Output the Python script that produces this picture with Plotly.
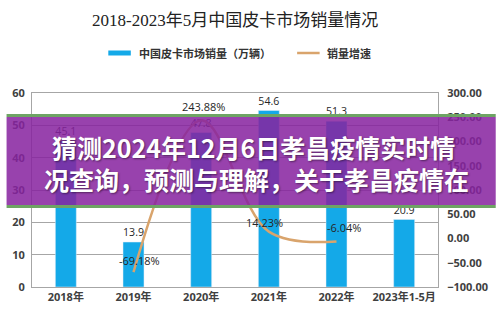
import plotly.graph_objects as go

# ---- data ----
categories = ["2018年", "2019年", "2020年", "2021年", "2022年", "2023年1-5月"]
sales = [45.1, 13.9, 47.8, 54.6, 51.3, 20.9]
growth_cats = ["2019年", "2020年", "2021年", "2022年"]
growth = [-69.18, 243.88, 14.23, -6.04]
left_ticks = [0, 10, 20, 30, 40, 50, 60]
right_ticks = [-100, -50, 0, 50, 100, 150, 200, 250, 300]
title_text = "2018-2023年5月中国皮卡市场销量情况"
legend_bar = "中国皮卡市场销量（万辆）"
legend_line = "销量增速"
banner_lines = ["猜测2024年12月6日孝昌疫情实时情", "况查询，预测与理解，关于孝昌疫情在"]

# ---- layout geometry (pixels) ----
W, H = 500, 325
L, R, T, B = 26, 441, 93, 287


def px(x):
    return (x - L) / (R - L)


def py(y):
    return (B - y) / (B - T)


BAR_COLOR = "#14A9E8"
LINE_COLOR = "#D9A46C"
TXT = "#404040"
FONT = "Open Sans, Noto Sans CJK SC, sans-serif"

fig = go.Figure()
fig.add_trace(go.Bar(
    x=categories, y=sales, width=0.31, marker_color=BAR_COLOR,
    text=[f"{v:.1f}" for v in sales], textposition="outside",
    textfont=dict(size=11, color="#262626", family=FONT), cliponaxis=False,
    name=legend_bar, showlegend=False,
))
fig.add_trace(go.Scatter(
    x=growth_cats, y=growth, yaxis="y2", mode="lines",
    line=dict(color=LINE_COLOR, width=2.5, shape="spline", smoothing=1.0),
    name=legend_line, showlegend=False, cliponaxis=False,
))

# growth labels
shifts = [(6, 12), (2, 14), (-4, 9), (7, 14)]
annotations = []
for c, g, (dx, dy) in zip(growth_cats, growth, shifts):
    annotations.append(dict(x=c, y=g, yref="y2", xref="x", text=f"{g:.2f}%",
                            showarrow=False, xshift=dx, yshift=dy,
                            font=dict(size=11, color="#262626", family=FONT)))

# title
annotations.append(dict(x=0.5, y=py(20), xref="paper", yref="paper", text=title_text,
                        showarrow=False, xanchor="center", yanchor="middle",
                        font=dict(size=17, color="#222222",
                                  family="Liberation Serif, Noto Sans CJK SC, serif")))
# legend texts
annotations.append(dict(x=px(133), y=py(53), xref="paper", yref="paper", text=legend_bar,
                        showarrow=False, xanchor="left", yanchor="middle",
                        font=dict(size=11, color="#333333", family=FONT, weight="bold")))
annotations.append(dict(x=px(325), y=py(53), xref="paper", yref="paper", text=legend_line,
                        showarrow=False, xanchor="left", yanchor="middle",
                        font=dict(size=11, color="#333333", family=FONT, weight="bold")))
# banner text
annotations.append(dict(x=px(44), y=py(147), xref="paper", yref="paper", text=banner_lines[0],
                        showarrow=False, xanchor="left", yanchor="middle",
                        font=dict(size=25, color="white", family="Noto Sans CJK SC", weight="bold",
                                  shadow="1px 1px 2px rgba(0,0,0,0.45)")))
annotations.append(dict(x=px(36), y=py(179), xref="paper", yref="paper", text=banner_lines[1],
                        showarrow=False, xanchor="left", yanchor="middle",
                        font=dict(size=25, color="white", family="Noto Sans CJK SC", weight="bold",
                                  shadow="1px 1px 2px rgba(0,0,0,0.45)")))

shapes = [
    # legend symbols
    dict(type="rect", xref="paper", yref="paper", x0=px(104), x1=px(127), y0=py(55.5), y1=py(50.5),
         fillcolor=BAR_COLOR, line=dict(width=0)),
    dict(type="line", xref="paper", yref="paper", x0=px(297), x1=px(320), y0=py(53), y1=py(53),
         line=dict(color=LINE_COLOR, width=2.5)),
    # banner
    dict(type="rect", xref="paper", yref="paper", x0=px(0), x1=px(W), y0=py(117), y1=py(114),
         fillcolor="#6ea464", line=dict(width=0), layer="above"),
    dict(type="rect", xref="paper", yref="paper", x0=px(0), x1=px(W), y0=py(205), y1=py(117),
         fillcolor="rgba(135,35,160,0.86)", line=dict(width=0), layer="above"),
    dict(type="rect", xref="paper", yref="paper", x0=px(0), x1=px(W), y0=py(208), y1=py(205),
         fillcolor="#6ea464", line=dict(width=0), layer="above"),
]

fig.update_layout(
    width=W, height=H, margin=dict(l=L, r=W - R, t=T, b=H - B),
    paper_bgcolor="white", plot_bgcolor="white",
    bargap=0.69,
    xaxis=dict(showline=True, linecolor="#a6a6a6", mirror=True, ticks="",
               tickfont=dict(size=11, color=TXT, family=FONT, weight="bold")),
    yaxis=dict(range=[0, 60], tickvals=left_ticks, showgrid=True, gridcolor="#a6a6a6",
               showline=True, linecolor="#a6a6a6", zeroline=False, ticks="",
               tickfont=dict(size=11, color=TXT, family=FONT, weight="bold"), ticklabelstandoff=4),
    yaxis2=dict(range=[-100, 300], tickvals=right_ticks, tickformat=".2f", ticksuffix="%",
                overlaying="y", side="right", showgrid=False, zeroline=False, ticks="",
                showline=True, linecolor="#a6a6a6",
                tickfont=dict(size=11, color=TXT, family=FONT, weight="bold"), ticklabelstandoff=6),
    annotations=annotations, shapes=shapes, showlegend=False,
)

fig.write_html("out.html")
